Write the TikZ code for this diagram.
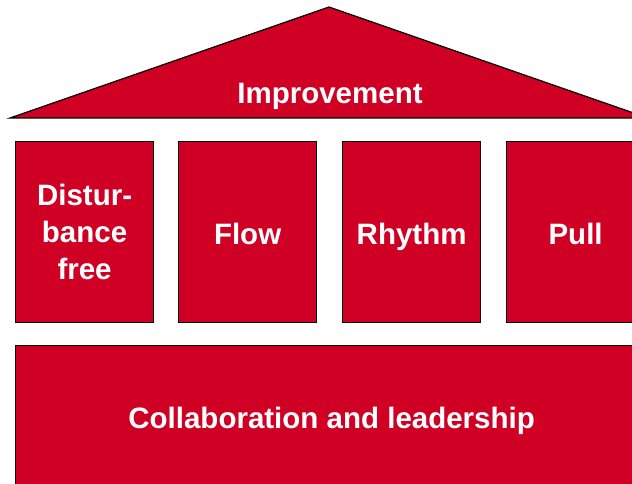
\documentclass[tikz,border=0pt]{standalone}
\usepackage{fontspec}
\setmainfont{Liberation Sans}
\definecolor{housered}{RGB}{207,0,36}
\begin{document}
\begin{tikzpicture}[x=1pt,y=-1pt,
  part/.style={draw=black,line width=1.2pt,fill=housered},
  housefont/.style={text=white,font=\bfseries\fontsize{29.5}{37}\selectfont},
  pillar/.style={part,housefont,minimum width=138pt,minimum height=181pt,inner sep=0pt,anchor=north west,align=center},
  oneline/.style={text height=27pt,text depth=3pt},
  label/.style={housefont}]
\useasboundingbox (0,0) rectangle (632,484);
\clip (0,0) rectangle (632,484);
\fill[white] (0,0) rectangle (632,484);
% roof
\coordinate (rl) at (10,118);
\coordinate (rt) at (329,7);
\coordinate (rr) at (648,118);
\draw[part] (rl) -- (rt) -- (rr) -- cycle;
\node[label,anchor=base] (improvement) at (330,104) {Improvement};
% pillars
\node[pillar] (dist) at (15,141) {Distur-\\bance\\free};
\node[pillar,oneline] (flow) at (178,141) {Flow};
\node[pillar,oneline] (rhythm) at (342,141) {Rhythm};
\node[pillar,oneline] (pull) at (506,141) {Pull};
% foundation
\node[part,housefont,oneline,minimum width=632pt,minimum height=141pt,inner sep=0pt,anchor=north west] (collab) at (15,345) {Collaboration and leadership};
\end{tikzpicture}
\end{document}
